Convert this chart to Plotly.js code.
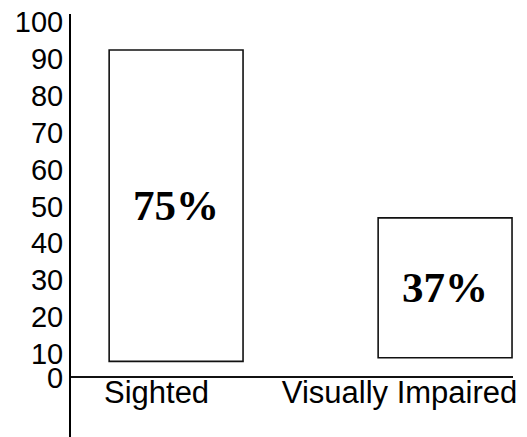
<!DOCTYPE html>
<html>
<head>
<meta charset="utf-8">
<script src="https://cdn.plot.ly/plotly-3.0.1.min.js"></script>
<style>
html,body{margin:0;padding:0;background:#fff;}
#chart{width:527px;height:437px;}
</style>
</head>
<body>
<div id="chart"></div>
<script>
// Data
var categories = ['Sighted', 'Visually Impaired'];
var barBase = [8.0, 9.0];          // bottom of each box on the y scale
var barTop = [92.4, 46.9];         // top of each box on the y scale
var barLabels = ['75%', '37%'];
var yTickValues = [3.6, 10, 20, 30, 40, 50, 60, 70, 80, 90, 100];
var yTickLabels = ['0', '10', '20', '30', '40', '50', '60', '70', '80', '90', '100'];
var baselineValue = 4.0;           // where the horizontal axis crosses

var heights = barTop.map(function (t, i) { return t - barBase[i]; });

var yRange = [-12.5, 102.15];
var xAxisPos = (baselineValue - yRange[0]) / (yRange[1] - yRange[0]);

var trace = {
  type: 'bar',
  x: categories,
  y: heights,
  base: barBase,
  width: 0.551,
  offset: [-0.195, -0.088],
  text: barLabels,
  textposition: 'inside',
  insidetextanchor: 'middle',
  textangle: 0,
  textfont: {family: '"Liberation Serif", "Times New Roman", serif', size: 43, color: '#000', weight: 'bold'},
  marker: {color: '#ffffff', line: {color: '#111111', width: 1.6}},
  hoverinfo: 'none',
  cliponaxis: false
};

var layout = {
  width: 527,
  height: 437,
  margin: {l: 71, r: 14, t: 14, b: 0, pad: 0},
  paper_bgcolor: '#ffffff',
  plot_bgcolor: '#ffffff',
  showlegend: false,
  font: {family: '"Liberation Sans", Arial, sans-serif', color: '#000'},
  xaxis: {
    type: 'category',
    range: [-0.352, 1.467],
    anchor: 'free',
    position: xAxisPos,
    showline: true,
    linecolor: '#111111',
    linewidth: 1.5,
    showgrid: false,
    zeroline: false,
    ticks: '',
    ticklabelstandoff: -12,
    tickfont: {size: 31, color: '#000'},
    fixedrange: true
  },
  yaxis: {
    range: yRange,
    tickmode: 'array',
    tickvals: yTickValues,
    ticktext: yTickLabels,
    showline: true,
    linecolor: '#000000',
    linewidth: 2,
    showgrid: false,
    zeroline: false,
    ticks: '',
    ticklabelstandoff: 0,
    tickfont: {size: 29, color: '#000'},
    fixedrange: true
  }
};

Plotly.newPlot('chart', [trace], layout, {displayModeBar: false, staticPlot: true});
</script>
</body>
</html>
